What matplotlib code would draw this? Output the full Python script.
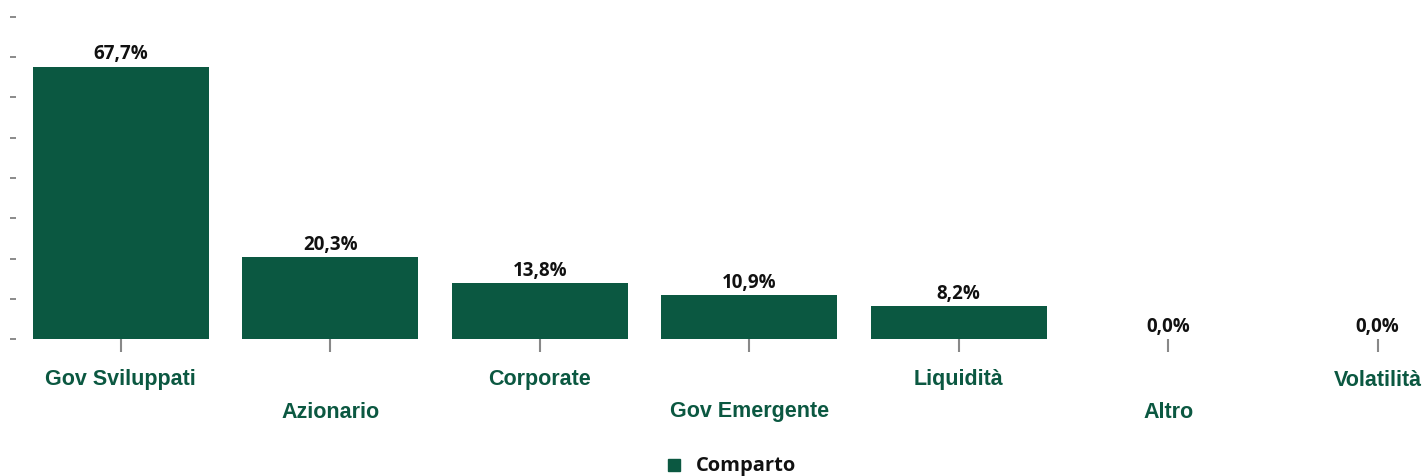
import numpy as np
import matplotlib.pyplot as plt

# Chart data
categories = ["Gov Sviluppati", "Azionario", "Corporate", "Gov Emergente",
              "Liquidità", "Altro", "Volatilità"]
values = [67.7, 20.3, 13.8, 10.9, 8.2, 0.0, 0.0]
series_name = "Comparto"

bar_color = "#0b5841"
W, H = 1426, 476

fig = plt.figure(figsize=(W / 100, H / 100), dpi=100)
# axes placed in pixel terms: x=-0.5 at 16px, 209.5px per category; y 0..80 from 339px to 17px
left_px, step = 16, 209.5
ax = fig.add_axes([left_px / W, (H - 339) / H, 7 * step / W, (339 - 17) / H])

x = np.arange(len(categories))
ax.bar(x, values, width=0.84, color=bar_color, label=series_name)

ax.set_xlim(-0.5, 6.5)
ax.set_ylim(0, 80)
ax.set_yticks(np.arange(0, 81, 10))
ax.set_yticklabels([])
ax.tick_params(axis="y", length=4, width=1.2, color="#777777", pad=2)
ax.set_xticks(x)
ax.set_xticklabels([])
ax.tick_params(axis="x", length=9, width=1.5, color="#888888", pad=0, direction="out")
for s in ax.spines.values():
    s.set_visible(False)

# value labels
for xi, v in zip(x, values):
    ax.text(xi, v + 0.6, f"{v:.1f}%".replace(".", ","), ha="center", va="bottom",
            fontsize=13.5, fontweight="bold", family="Open Sans", color="#111111")

# staggered category labels
for i, lab in enumerate(categories):
    ypx = 380 if i % 2 == 0 else 412
    fig.text((left_px + (i + 0.5) * step) / W, 1 - ypx / H, lab, ha="center", va="center",
             fontsize=15.5, fontweight="bold", family="Liberation Sans", color=bar_color)

# legend
fig.patches.append(plt.Rectangle((668 / W, 1 - 471 / H), 12 / W, 12 / H,
                                 transform=fig.transFigure, color=bar_color, figure=fig))
fig.text(696 / W, 1 - 466 / H, series_name, ha="left", va="center",
         fontsize=14.5, fontweight="bold", family="Open Sans", color="#111111")

fig.savefig("out.png", dpi=100)
